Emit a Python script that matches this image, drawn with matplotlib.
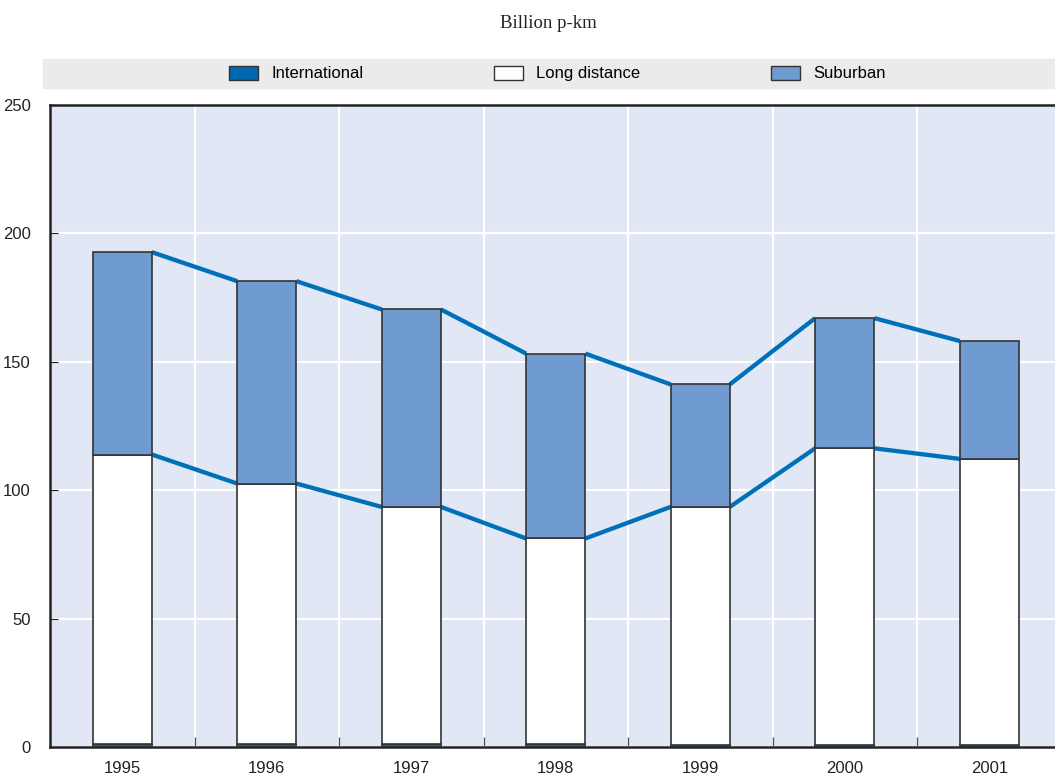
import matplotlib
matplotlib.use("Agg")
import matplotlib.pyplot as plt
from matplotlib.patches import Patch, Rectangle
import numpy as np

plt.rcParams['font.family'] = ['Liberation Sans Narrow', 'Liberation Sans', 'DejaVu Sans']

# data (billion p-km)
years = ['1995', '1996', '1997', '1998', '1999', '2000', '2001']
international = [1.0, 1.0, 1.0, 1.0, 0.6, 0.6, 0.6]
long_distance = [112.9, 101.6, 92.5, 80.2, 92.9, 115.7, 111.6]
suburban = [78.8, 78.8, 76.9, 72.0, 47.7, 50.7, 45.9]
yticks = [0, 50, 100, 150, 200, 250]

c_int = '#0067b1'
c_long = '#ffffff'
c_sub = '#6f9bd0'
c_line = '#0070b8'
c_bg = '#e1e7f4'
edge = '#333333'

fig = plt.figure(figsize=(10.55, 7.79), dpi=100)
ax = fig.add_axes([50 / 1055, 32 / 779, 1011.5 / 1055, 642 / 779])
ax.set_facecolor(c_bg)

x = np.arange(len(years))
w = 0.41
intl = np.array(international)
lng = np.array(long_distance)
sub = np.array(suburban)

ax.bar(x, intl, w, color=c_int, edgecolor=edge, linewidth=1.2, zorder=3)
ax.bar(x, lng, w, bottom=intl, color=c_long, edgecolor=edge, linewidth=1.2, zorder=3)
ax.bar(x, sub, w, bottom=intl + lng, color=c_sub, edgecolor=edge, linewidth=1.2, zorder=3)

# connecting lines between bar edges
for lvl in (intl + lng, intl + lng + sub):
    for i in range(len(x) - 1):
        ax.plot([x[i] + w / 2, x[i + 1] - w / 2], [lvl[i], lvl[i + 1]],
                color=c_line, lw=3.1, solid_capstyle='butt', zorder=2)

ax.set_xlim(-0.5, len(x) - 0.5)
ax.set_ylim(0, 250)
ax.set_yticks(yticks)
ax.set_xticks(x)
ax.set_xticklabels(years)
ax.set_xticks(x[:-1] + 0.5, minor=True)
ax.grid(True, axis='y', color='white', lw=1.5, zorder=1)
ax.grid(True, axis='x', which='minor', color='white', lw=1.5, zorder=1)
ax.tick_params(axis='x', which='major', length=0, labelsize=12, pad=10, colors='#222222')
ax.tick_params(axis='x', which='minor', direction='in', length=7, color='#555555', width=1)
ax.tick_params(axis='y', direction='in', length=6, labelsize=12, pad=14, colors='#222222')
for s in ax.spines.values():
    s.set_color('#222222')
    s.set_linewidth(1.8)

# legend band
fig.patches.append(Rectangle((43 / 1055, 1 - 88 / 779), 1012 / 1055, 29 / 779,
                             transform=fig.transFigure, color='#ebebeb', zorder=0))
labels = ['International', 'Long distance', 'Suburban']
colors = [c_int, c_long, c_sub]
xpos = [229, 494, 771]
for lab, col, xp in zip(labels, colors, xpos):
    fig.legend(handles=[Patch(facecolor=col, edgecolor=edge, linewidth=1)], labels=[lab],
               loc='center left', bbox_to_anchor=(xp / 1055, 1 - 73.5 / 779),
               frameon=False, fontsize=12, handlelength=1.75, handleheight=0.9,
               handletextpad=0.8, borderpad=0, borderaxespad=0)

fig.text(548 / 1055, 1 - 24 / 779, 'Billion p-km', ha='center', va='center',
         fontsize=13.5, family=['Liberation Serif', 'DejaVu Serif'], color='#222222')

fig.savefig('out.png', dpi=100)
